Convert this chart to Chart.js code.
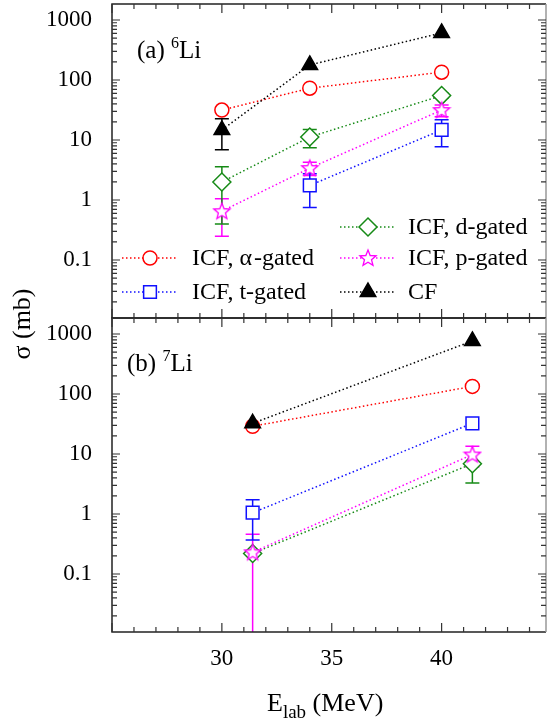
<!DOCTYPE html>
<html>
<head>
<meta charset="utf-8">
<script src="https://cdn.jsdelivr.net/npm/chart.js@4.4.0/dist/chart.umd.min.js"></script>
<style>
  html, body { margin: 0; padding: 0; background: #fff; }
  #wrap { position: relative; width: 547px; height: 725px; }
  #wrap canvas { position: absolute; left: 0; top: 0; }
</style>
</head>
<body>
<div id="wrap">
  <canvas id="panelA" width="547" height="725"></canvas>
  <canvas id="panelB" width="547" height="725"></canvas>
</div>
<script>
// Energies (MeV)
const energy6 = [30, 34, 40];
const energy7 = [31.4, 41.4];

// (a) 6Li cross sections (mb) and errors
const alpha6 = [31.5, 73, 135];
const alphaErr6 = [0, 0, 0];
const triton6 = [null, 1.75, 14.7];
const tritonErr6 = [0, 1.0, 7.0];
const deut6 = [2.0, 11.2, 55];
const deutErr6 = [1.6, 3.8, 5];
const prot6 = [0.65, 3.4, 31.5];
const protErr6 = [0.4, 0.85, 7];
const cf6 = [14.7, 178, 610];
const cfErr6 = [7.8, 0, 0];

// (b) 7Li cross sections (mb) and errors
const alpha7 = [29, 134];
const alphaErr7 = [0, 0];
const triton7 = [1.05, 32.5];
const tritonErr7 = [0.68, 0];
const deut7 = [0.22, 6.9];
const deutErr7 = [0, 3.6];
const prot7 = [0.23, 9.8];
const protErr7 = [0.23, 3.7];
const cf7 = [32.5, 765];
const cfErr7 = [0, 0];

// Axis ticks
const xTicks = [30, 35, 40];
const yTicks = [0.1, 1, 10, 100, 1000];

const SERIF = "'Liberation Serif', 'DejaVu Serif', serif";
const X_MIN = 25, X_MAX = 44.75;
const Y_MIN = 0.0108, Y_MAX = 1848;

Chart.defaults.font.family = SERIF;
Chart.defaults.color = '#000';

// Star marker (5 points), Chart.js has no outlined 5-point star
function makeStar(color) {
    const c = document.createElement('canvas');
    c.width = 20; c.height = 20;
    const g = c.getContext('2d');
    g.beginPath();
    for (let i = 0; i < 10; i++) {
        const r = i % 2 === 0 ? 8.5 : 3.7;
        const a = -Math.PI / 2 + i * Math.PI / 5;
        const px = 10 + r * Math.cos(a), py = 10.5 + r * Math.sin(a);
        if (i === 0) g.moveTo(px, py); else g.lineTo(px, py);
    }
    g.closePath();
    g.fillStyle = '#fff';
    g.fill();
    g.lineWidth = 1.3;
    g.strokeStyle = color;
    g.stroke();
    return c;
}
const starImg = makeStar('#ff00ff');

const styles = {
    alpha: { label: 'ICF, \u03b1\u200a-gated', color: '#ff0000', pointStyle: 'circle', radius: 7, fill: '#fff' },
    triton: { label: 'ICF, t-gated', color: '#1010ff', pointStyle: 'rect', radius: 9, fill: '#fff' },
    deut: { label: 'ICF, d-gated', color: '#168a16', pointStyle: 'rectRot', radius: 9, fill: '#fff' },
    prot: { label: 'ICF, p-gated', color: '#ff00ff', pointStyle: starImg, radius: 9, fill: '#fff' },
    cf: { label: 'CF', color: '#000000', pointStyle: 'triangle', radius: 9, fill: '#000' }
};

function buildPoints(xs, ys, errs) {
    return xs.map((x, i) => ys[i] == null ? null : { x: x, y: ys[i], err: errs[i] })
             .filter(p => p);
}

function makeDataset(key, xs, ys, errs) {
    const s = styles[key];
    return {
        label: s.label,
        data: buildPoints(xs, ys, errs),
        showLine: true,
        borderColor: s.color,
        borderWidth: 1.5,
        borderDash: [1.5, 2.5],
        pointStyle: s.pointStyle,
        pointRadius: s.radius,
        pointHoverRadius: s.radius,
        pointBorderWidth: 1.5,
        pointBorderColor: s.color,
        pointBackgroundColor: s.fill,
        errColor: s.color
    };
}

// Error bars, drawn under the markers
const errorBars = {
    id: 'errorBars',
    beforeDatasetsDraw(chart) {
        const ctx = chart.ctx, xs = chart.scales.x, ys = chart.scales.y, area = chart.chartArea;
        ctx.save();
        ctx.beginPath();
        ctx.rect(area.left, area.top, area.right - area.left, area.bottom - area.top);
        ctx.clip();
        ctx.lineWidth = 1.5;
        chart.data.datasets.forEach(ds => {
            ctx.strokeStyle = ds.errColor;
            ds.data.forEach(p => {
                if (!p.err) return;
                const px = xs.getPixelForValue(p.x);
                const hi = ys.getPixelForValue(p.y + p.err);
                const loVal = p.y - p.err;
                const lo = loVal > ys.min ? ys.getPixelForValue(loVal) : area.bottom + 2;
                ctx.beginPath();
                ctx.moveTo(px, hi); ctx.lineTo(px, lo);
                ctx.moveTo(px - 7, hi); ctx.lineTo(px + 7, hi);
                if (loVal > ys.min) { ctx.moveTo(px - 7, lo); ctx.lineTo(px + 7, lo); }
                ctx.stroke();
            });
        });
        ctx.restore();
    }
};

// Frame, inward ticks, labels and legend
const decor = {
    id: 'decor',
    afterDraw(chart, args, opts) {
        const ctx = chart.ctx, xs = chart.scales.x, ys = chart.scales.y, a = chart.chartArea;
        ctx.save();
        ctx.lineWidth = 1.5;
        ctx.strokeStyle = '#222';
        ctx.beginPath();
        ctx.moveTo(a.right, a.top); ctx.lineTo(a.left, a.top);
        ctx.lineTo(a.left, a.bottom); ctx.lineTo(a.right, a.bottom);
        ctx.stroke();
        ctx.strokeStyle = '#999';
        ctx.beginPath();
        ctx.moveTo(a.right, a.top); ctx.lineTo(a.right, a.bottom);
        ctx.stroke();

        // x ticks on top and bottom edges
        ctx.strokeStyle = '#333';
        ctx.lineWidth = 1.2;
        ctx.beginPath();
        for (let v = 25; v <= X_MAX; v++) {
            const px = xs.getPixelForValue(v);
            const len = v % 5 === 0 ? 9 : 5;
            ctx.moveTo(px, a.top); ctx.lineTo(px, a.top + len);
            ctx.moveTo(px, a.bottom); ctx.lineTo(px, a.bottom - len);
        }
        ctx.stroke();

        // log y ticks on left and right edges
        ctx.beginPath();
        for (let k = -2; k <= 3; k++) {
            for (let m = 1; m <= 9; m++) {
                const v = m * Math.pow(10, k);
                if (v < Y_MIN || v > Y_MAX) continue;
                const py = ys.getPixelForValue(v);
                const len = m === 1 ? 8 : 5;
                ctx.moveTo(a.left, py); ctx.lineTo(a.left + len, py);
                ctx.moveTo(a.right, py); ctx.lineTo(a.right - len, py);
            }
        }
        ctx.stroke();

        // panel label like "(a) 6Li"
        ctx.fillStyle = '#000';
        ctx.textBaseline = 'alphabetic';
        ctx.font = '25px ' + SERIF;
        let tx = opts.labelX;
        ctx.fillText(opts.tag + ' ', tx, opts.labelY);
        tx += ctx.measureText(opts.tag + ' ').width;
        ctx.font = '16px ' + SERIF;
        ctx.fillText(opts.mass, tx, opts.labelY - 10);
        tx += ctx.measureText(opts.mass).width;
        ctx.font = '25px ' + SERIF;
        ctx.fillText('Li', tx, opts.labelY);

        if (opts.legend) drawLegend(ctx, chart);
        if (opts.yTitle) {
            ctx.save();
            ctx.translate(23, 324);
            ctx.rotate(-Math.PI / 2);
            ctx.font = '26px ' + SERIF;
            ctx.textAlign = 'center';
            ctx.textBaseline = 'middle';
            ctx.fillText('\u03c3 (mb)', 0, 0);
            ctx.restore();
        }
        if (opts.xTitle) {
            let x0 = 267;
            ctx.font = '26px ' + SERIF;
            ctx.fillText('E', x0, 711);
            x0 += ctx.measureText('E').width;
            ctx.font = '19px ' + SERIF;
            ctx.fillText('lab', x0, 718);
            x0 += ctx.measureText('lab').width;
            ctx.font = '26px ' + SERIF;
            ctx.fillText(' (MeV)', x0, 711);
        }
        ctx.restore();
    }
};

// Legend in two columns inside panel (a)
function drawLegend(ctx, chart) {
    const rows = [
        { key: 'alpha', x: 122, y: 258 },
        { key: 'triton', x: 122, y: 292 },
        { key: 'deut', x: 340, y: 227 },
        { key: 'prot', x: 340, y: 258 },
        { key: 'cf', x: 340, y: 292 }
    ];
    rows.forEach(r => {
        const s = styles[r.key];
        ctx.save();
        ctx.strokeStyle = s.color;
        ctx.lineWidth = 1.5;
        ctx.setLineDash([1.5, 2.5]);
        ctx.beginPath();
        ctx.moveTo(r.x, r.y); ctx.lineTo(r.x + 56, r.y);
        ctx.stroke();
        ctx.setLineDash([]);
        ctx.fillStyle = s.fill;
        Chart.helpers.drawPoint(ctx, { pointStyle: s.pointStyle, radius: s.radius, borderWidth: 1.5, rotation: 0 }, r.x + 28, r.y);
        ctx.fillStyle = '#000';
        ctx.font = '24px ' + SERIF;
        ctx.textBaseline = 'middle';
        ctx.fillText(s.label, r.x + (r.key === 'alpha' || r.key === 'triton' ? 70 : 68), r.y + 1);
        ctx.restore();
    });
}

Chart.register(errorBars, decor);

function makePanel(id, datasets, padding, showX, decorOpts) {
    const ctx = document.getElementById(id).getContext('2d');
    return new Chart(ctx, {
        type: 'scatter',
        data: { datasets: datasets },
        options: {
            responsive: false,
            animation: false,
            devicePixelRatio: 1,
            layout: { padding: padding, autoPadding: false },
            plugins: {
                legend: { display: false },
                tooltip: { enabled: false },
                decor: decorOpts
            },
            scales: {
                x: {
                    type: 'linear',
                    min: X_MIN,
                    max: X_MAX,
                    display: showX,
                    afterBuildTicks: s => { s.ticks = xTicks.map(v => ({ value: v })); },
                    afterFit: s => { s.height = showX ? 93 : 0; s.paddingLeft = 0; s.paddingRight = 0; },
                    grid: { display: false },
                    border: { display: false },
                    ticks: { padding: 5, color: '#000', font: { family: SERIF, size: 23 }, maxRotation: 0, autoSkip: false }
                },
                y: {
                    type: 'logarithmic',
                    min: Y_MIN,
                    max: Y_MAX,
                    afterBuildTicks: s => { s.ticks = yTicks.map(v => ({ value: v })); },
                    afterFit: s => { s.width = 112; s.paddingTop = 0; s.paddingBottom = 0; },
                    grid: { display: false },
                    border: { display: false },
                    ticks: {
                        padding: 12,
                        color: '#000',
                        font: { family: SERIF, size: 23 },
                        autoSkip: false,
                        callback: v => String(v)
                    }
                }
            }
        }
    });
}

// Panel (a): 6Li
makePanel('panelA', [
    makeDataset('cf', energy6, cf6, cfErr6),
    makeDataset('prot', energy6, prot6, protErr6),
    makeDataset('deut', energy6, deut6, deutErr6),
    makeDataset('triton', energy6, triton6, tritonErr6),
    makeDataset('alpha', energy6, alpha6, alphaErr6)
], { left: 0, right: 1, top: 4, bottom: 407 }, false,
   { tag: '(a)', mass: '6', labelX: 137, labelY: 58, legend: true, yTitle: true });

// Panel (b): 7Li
makePanel('panelB', [
    makeDataset('cf', energy7, cf7, cfErr7),
    makeDataset('prot', energy7, prot7, protErr7),
    makeDataset('deut', energy7, deut7, deutErr7),
    makeDataset('triton', energy7, triton7, tritonErr7),
    makeDataset('alpha', energy7, alpha7, alphaErr7)
], { left: 0, right: 1, top: 318, bottom: 0 }, true,
   { tag: '(b)', mass: '7', labelX: 127, labelY: 371, xTitle: true });
</script>
</body>
</html>
